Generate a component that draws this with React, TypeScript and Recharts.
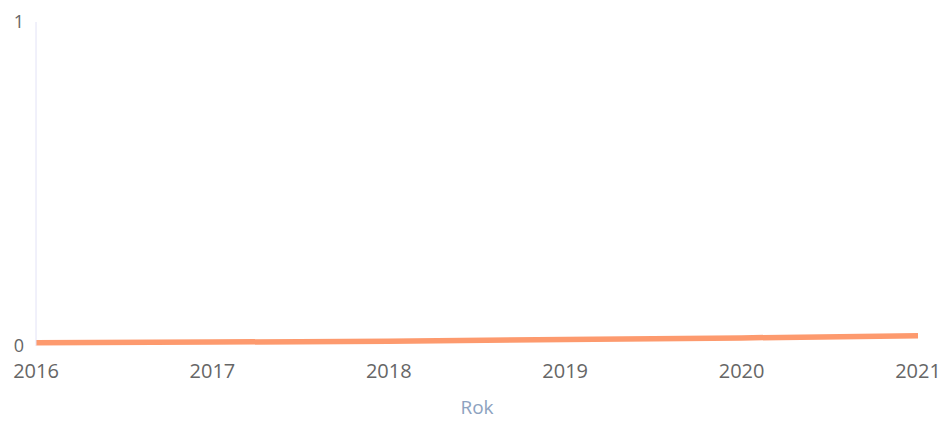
import React from 'react';
import { LineChart, Line, XAxis, YAxis } from 'recharts';

const years = ['2016', '2017', '2018', '2019', '2020', '2021'];
const values = [0.01, 0.012, 0.015, 0.02, 0.025, 0.032];
const yTicks = [0, 1];

const data = years.map((rok, i) => ({ rok, value: values[i] }));

const xTickStyle = { fill: '#666', fontSize: 20, fontFamily: 'Open Sans' };
const yTickStyle = { fill: '#666', fontSize: 18, fontFamily: 'Open Sans' };

export default function App() {
  return (
    <div style={{ position: 'absolute', left: 0, top: 0, width: 942, height: 421, background: '#fff' }}>
      <LineChart width={942} height={421} data={data} margin={{ top: 22, right: 24, bottom: 0, left: 0 }}>
        <XAxis
          dataKey="rok"
          axisLine={false}
          tickLine={false}
          tickMargin={12}
          height={75}
          interval={0}
          padding={{ left: 0, right: 0 }}
          tick={xTickStyle}
          label={{ value: 'Rok', position: 'insideBottom', offset: 7, fill: '#8da2c0', fontSize: 19, fontFamily: 'Open Sans' }}
        />
        <YAxis
          domain={[0, 1]}
          ticks={yTicks}
          width={36}
          tickLine={false}
          tickMargin={6}
          axisLine={{ stroke: '#e2e2f6' }}
          tick={yTickStyle}
        />
        <Line
          type="linear"
          dataKey="value"
          stroke="#fd9a6e"
          strokeWidth={5.5}
          dot={false}
          isAnimationActive={false}
        />
      </LineChart>
    </div>
  );
}
